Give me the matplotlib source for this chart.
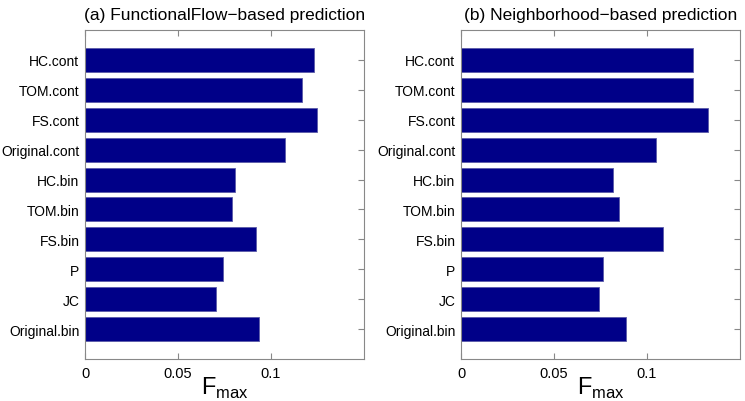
import matplotlib
matplotlib.use("Agg")
import matplotlib.pyplot as plt
import numpy as np

plt.rcParams['font.family'] = ['Liberation Sans', 'DejaVu Sans']

# Categories listed bottom to top
categories = ["Original.bin", "JC", "P", "FS.bin", "TOM.bin", "HC.bin",
              "Original.cont", "FS.cont", "TOM.cont", "HC.cont"]

# (a) FunctionalFlow-based prediction, bottom to top
ff_values = [0.0938, 0.0706, 0.0740, 0.0922, 0.0788, 0.0809,
             0.1077, 0.1249, 0.1168, 0.1233]
# (b) Neighborhood-based prediction, bottom to top
nb_values = [0.0887, 0.0742, 0.0763, 0.1086, 0.0849, 0.0817,
             0.1048, 0.1328, 0.1247, 0.1247]

titles = ["(a) FunctionalFlow\u2212based prediction",
          "(b) Neighborhood\u2212based prediction"]
xticks = [0, 0.05, 0.1]
xticklabels = ["0", "0.05", "0.1"]

W, H = 745, 402
fig = plt.figure(figsize=(W / 100, H / 100), dpi=100)

panels = [(85, ff_values, titles[0]), (461, nb_values, titles[1])]
axis_w, top, bottom = 279, 31, 360

for left, values, title in panels:
    ax = fig.add_axes([left / W, 1 - bottom / H, axis_w / W, (bottom - top) / H])
    y = np.arange(1, len(categories) + 1)
    ax.barh(y, values, height=0.8, color="#000088", edgecolor="#5a5aa8",
            linewidth=0.6, zorder=2)
    ax.set_xlim(0, 0.15)
    ax.set_ylim(0, len(categories) + 1)
    ax.set_yticks(y)
    ax.set_yticklabels(categories, fontsize=10)
    ax.set_xticks(xticks)
    ax.set_xticklabels(xticklabels, fontsize=10.5)
    ax.tick_params(direction="in", length=4, color="#888888", top=True,
                   right=True, pad=5)
    ax.tick_params(axis="y", left=True, right=True, pad=4)
    for sp in ax.spines.values():
        sp.set_color("#888888")
        sp.set_linewidth(0.8)
    ax.set_title(title, fontsize=12.5, pad=8)
    ax.set_xlabel(r"F$_{\mathregular{max}}$", fontsize=17, labelpad=-4)

fig.savefig("out.png", dpi=100)
